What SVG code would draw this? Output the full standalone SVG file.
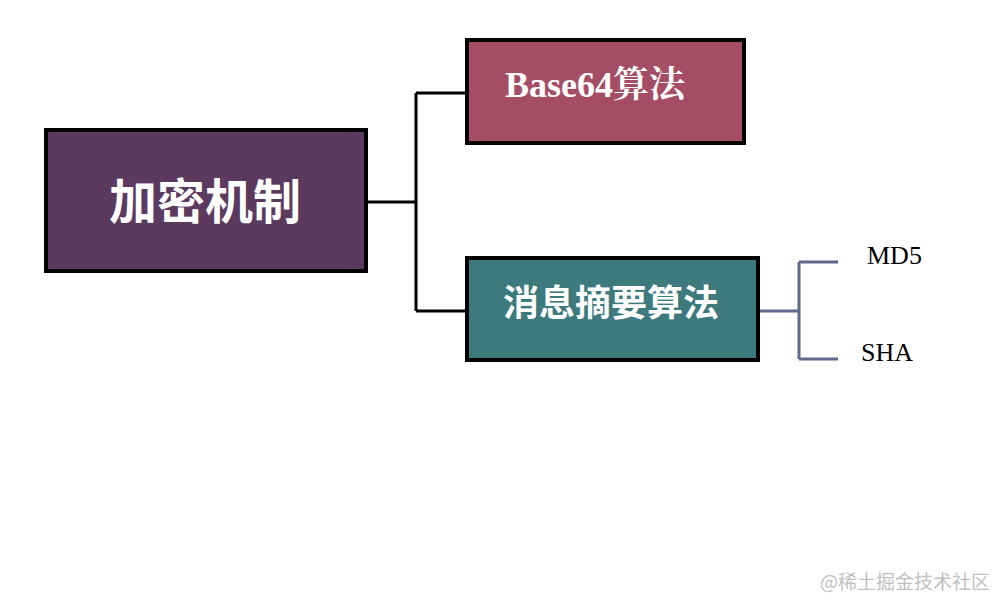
<svg xmlns="http://www.w3.org/2000/svg" width="996" height="600" viewBox="0 0 996 600">
<style>
.box{stroke:#000;stroke-width:4}
.cn{font-family:"Liberation Sans","Noto Sans CJK SC",sans-serif;font-weight:bold;fill:#fff}
.sr{font-family:"Liberation Serif","Noto Serif CJK SC","Noto Sans CJK SC",serif}
.blk{fill:none;stroke:#000;stroke-width:3}
.gry{fill:none;stroke:#5f6a8a;stroke-width:3}
</style>
<rect width="996" height="600" fill="#fff"/>
<g id="connectors">
<path class="blk" d="M367 202H416M416 93V311M416 93H466M416 311H466"/>
<path class="gry" d="M760 311H799M799 262V359M799 262H838M799 359H838"/>
</g>
<g id="root">
<rect class="box" x="46" y="130" width="320" height="141" fill="#5c3a5f"/>
<text class="cn" x="205" y="219" font-size="48" text-anchor="middle">加密机制</text>
</g>
<g id="base64">
<rect class="box" x="467" y="40" width="277" height="103" fill="#a44d65"/>
<text class="cn sr" x="505" y="97" font-size="36" font-weight="bold" textLength="180" lengthAdjust="spacingAndGlyphs">Base64算法</text>
</g>
<g id="digest">
<rect class="box" x="467" y="258" width="291" height="102" fill="#3d7a7e"/>
<text class="cn" x="611" y="316" font-size="36" text-anchor="middle">消息摘要算法</text>
</g>
<g id="md5">
<text class="sr" x="867" y="264" font-size="26" fill="#000">MD5</text>
</g>
<g id="sha">
<text class="sr" x="861" y="361" font-size="26" fill="#000">SHA</text>
</g>
<text x="990" y="589" font-size="19" text-anchor="end" fill="#c0c0c0" font-family="'Noto Sans CJK SC',sans-serif">@稀土掘金技术社区</text>
</svg>
